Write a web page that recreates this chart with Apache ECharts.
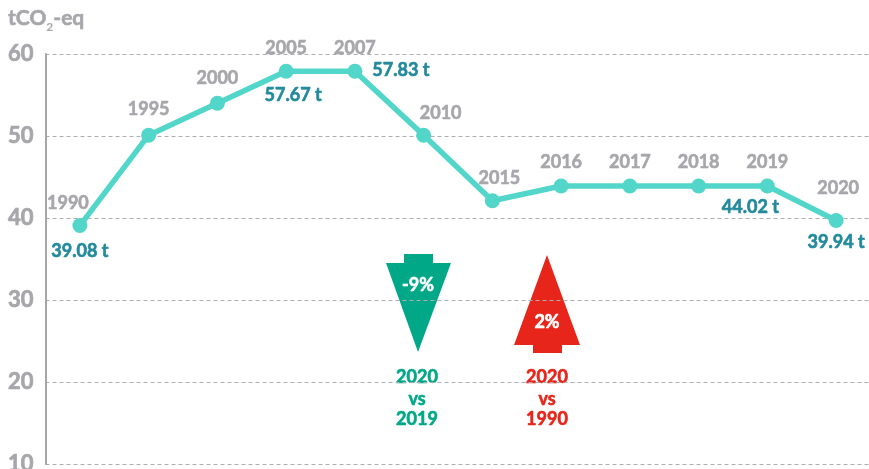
<!DOCTYPE html>
<html>
<head>
<meta charset="utf-8">
<style>
  html, body { margin: 0; padding: 0; background: #fff; }
  #chart { width: 869px; height: 469px; }
</style>
<script src="https://cdn.jsdelivr.net/npm/echarts@6/dist/echarts.min.js"></script>
</head>
<body>
<div id="chart"></div>
<script>
// Data
const years = ["1990", "1995", "2000", "2005", "2007", "2010", "2015", "2016", "2017", "2018", "2019", "2020"];
const emissions = [39.08, 50.1, 54.0, 57.9, 57.9, 50.1, 42.1, 43.9, 43.9, 43.9, 43.9, 39.7];
const valueLabels = ["39.08 t", "", "", "57.67 t", "57.83 t", "", "", "", "", "", "44.02 t", "39.94 t"];

// Label placement relative to each point
const yearOffsets = [[-12, -22], [0, -26], [0, -25], [0, -23], [0, -23], [17, -22], [7, -23], [0, -24], [0, -24], [0, -24], [0, -24], [2, -32]];
const valueOffsets = [[0, 26], null, null, [7, 24], [46, -1], null, null, null, null, null, [-17, 21], [0, 22]];

const FONT = "Lato, 'Open Sans', sans-serif";
const GREY = "#a7a6ab";
const TEAL = "#228a9c";
const LINE = "#52d6c9";
const GREEN = "#00a887";
const RED = "#e8251a";

const chart = echarts.init(document.getElementById("chart"), null, { renderer: "canvas" });

// Lato bold is lighter than the original face, a thin outline of the same colour fattens it
function caption(x, y, str, color, size) {
  return {
    type: "text",
    x: x,
    y: y,
    style: {
      text: str,
      fill: color,
      stroke: color,
      lineWidth: 0.6,
      font: "bold " + size + "px " + FONT,
      align: "center",
      verticalAlign: "middle",
    },
  };
}

function arrow(points, color) {
  return { type: "polygon", shape: { points: points }, style: { fill: color } };
}

const option = {
  animation: false,
  backgroundColor: "#fff",
  grid: { left: 45.5, right: -1.5, top: 54, bottom: 5, outerBoundsMode: "none" },
  xAxis: {
    type: "category",
    data: years,
    axisLine: { show: false },
    axisTick: { show: false },
    axisLabel: { show: false },
  },
  yAxis: {
    type: "value",
    min: 10,
    max: 60,
    interval: 10,
    axisLine: { show: true, lineStyle: { color: GREY, width: 2 } },
    axisTick: { show: false },
    axisLabel: {
      color: GREY,
      fontFamily: FONT,
      fontWeight: "bold",
      fontSize: 22,
      margin: 12,
      textBorderColor: GREY,
      textBorderWidth: 0.7,
    },
    splitLine: { lineStyle: { color: "#aeadb0", width: 1, type: [4, 3] } },
  },
  series: [
    {
      type: "line",
      data: emissions.map((v, i) => ({
        value: v,
        label: { offset: yearOffsets[i] },
      })),
      symbol: "circle",
      symbolSize: 15,
      itemStyle: { color: LINE },
      lineStyle: { color: LINE, width: 5.5 },
      label: {
        show: true,
        position: "inside",
        formatter: (p) => years[p.dataIndex],
        color: GREY,
        fontFamily: FONT,
        fontWeight: "bold",
        fontSize: 18,
        textBorderColor: GREY,
        textBorderWidth: 0.6,
      },
      z: 3,
    },
    {
      // carries the printed tonnages only
      type: "line",
      data: emissions.map((v, i) => ({
        value: v,
        label: { show: !!valueLabels[i], offset: valueOffsets[i] || [0, 0] },
      })),
      symbol: "circle",
      symbolSize: 1,
      itemStyle: { color: "transparent" },
      lineStyle: { width: 0 },
      label: {
        position: "inside",
        formatter: (p) => valueLabels[p.dataIndex],
        color: TEAL,
        fontFamily: FONT,
        fontWeight: "bold",
        fontSize: 18,
        textBorderColor: TEAL,
        textBorderWidth: 0.6,
      },
      z: 4,
    },
  ],
  graphic: [
    {
      type: "text",
      x: 8,
      y: 3,
      style: {
        text: "{main|tCO}{sub|2}{main|-eq}",
        rich: {
          main: {
            fill: GREY,
            stroke: GREY,
            lineWidth: 0.6,
            font: "bold 21px " + FONT,
            lineHeight: 30,
            verticalAlign: "middle",
          },
          sub: {
            fill: GREY,
            font: "bold 12px " + FONT,
            lineHeight: 30,
            verticalAlign: "bottom",
          },
        },
      },
    },
    arrow([[404, 254], [433, 254], [433, 263], [451, 263], [418, 352], [386, 263], [404, 263]], GREEN),
    arrow([[547, 255], [580, 345], [562, 345], [562, 353], [533, 353], [533, 345], [514, 345]], RED),
    caption(418, 285, "-9%", "#fff", 18),
    caption(547, 322, "2%", "#fff", 18),
    caption(417, 377, "2020", GREEN, 18),
    caption(417, 399, "vs", GREEN, 18),
    caption(417, 419, "2019", GREEN, 18),
    caption(547, 377, "2020", RED, 18),
    caption(547, 399, "vs", RED, 18),
    caption(547, 419, "1990", RED, 18),
  ],
};

chart.setOption(option);
</script>
</body>
</html>
